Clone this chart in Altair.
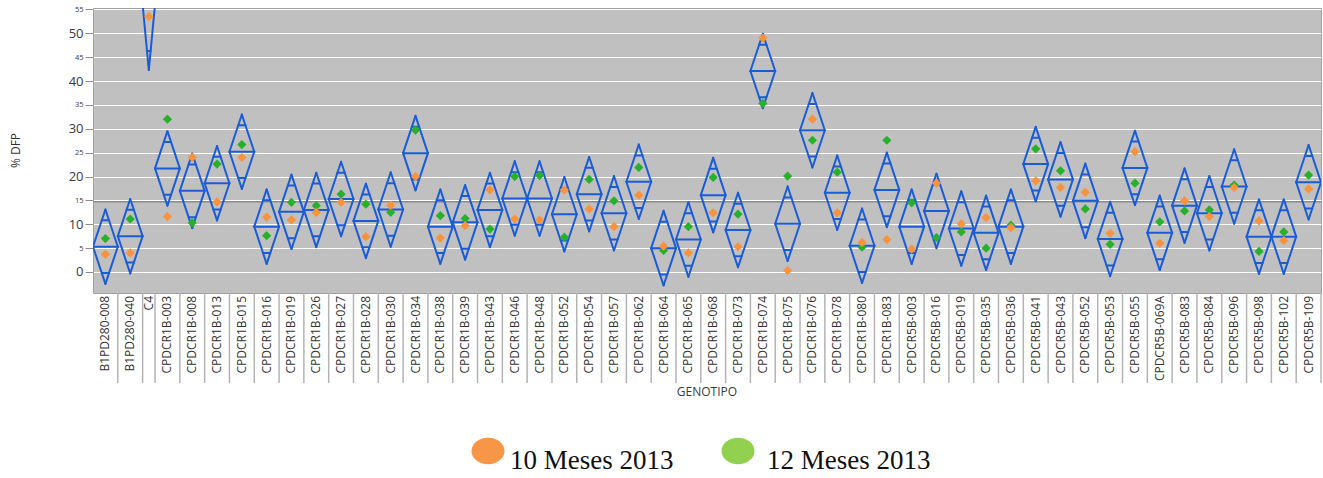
import altair as alt
import pandas as pd

# Genotypes in plotting order
genotipos = [
    "B1PD280-008", "B1PD280-040", "C4",
    "CPDCR1B-003", "CPDCR1B-008", "CPDCR1B-013", "CPDCR1B-015", "CPDCR1B-016",
    "CPDCR1B-019", "CPDCR1B-026", "CPDCR1B-027", "CPDCR1B-028", "CPDCR1B-030",
    "CPDCR1B-034", "CPDCR1B-038", "CPDCR1B-039", "CPDCR1B-043", "CPDCR1B-046",
    "CPDCR1B-048", "CPDCR1B-052", "CPDCR1B-054", "CPDCR1B-057", "CPDCR1B-062",
    "CPDCR1B-064", "CPDCR1B-065", "CPDCR1B-068", "CPDCR1B-073", "CPDCR1B-074",
    "CPDCR1B-075", "CPDCR1B-076", "CPDCR1B-078", "CPDCR1B-080", "CPDCR1B-083",
    "CPDCR5B-003", "CPDCR5B-016", "CPDCR5B-019", "CPDCR5B-035", "CPDCR5B-036",
    "CPDCR5B-041", "CPDCR5B-043", "CPDCR5B-052", "CPDCR5B-053", "CPDCR5B-055",
    "CPDCR5B-069A", "CPDCR5B-083", "CPDCR5B-084", "CPDCR5B-096", "CPDCR5B-098",
    "CPDCR5B-102", "CPDCR5B-109",
]

# Relative sample size per genotype (sets the width of each diamond)
peso = [
    1, 1, 0.5,
    1, 1, 1, 1, 1, 1, 1, 1, 1, 1, 1, 1, 1, 1, 1, 1, 1, 1, 1, 1,
    1, 1, 1, 1, 1, 1, 1, 1, 1, 1,
    1, 1, 1, 1, 1, 1, 1, 1, 1, 1, 1, 1, 1, 1, 1, 1, 1,
]

# Group mean of % DFP
media = [
    5.3, 7.5, 56.0,
    21.7, 17.0, 18.6, 25.2, 9.5, 12.6, 13.0, 15.3, 10.7, 13.1,
    24.9, 9.5, 10.4, 13.0, 15.4, 15.4, 12.1, 16.3, 12.3, 18.9,
    5.0, 6.8, 16.1, 8.8, 42.1, 10.1, 29.7, 16.6, 5.5, 17.2,
    9.5, 12.8, 9.1, 8.2, 9.5, 22.6, 19.4, 14.9, 6.9, 21.8,
    8.2, 13.9, 12.3, 17.9, 7.4, 7.4, 18.8,
]

# Half width of the 95% confidence interval of each mean
ic = [
    7.8, 7.8, 13.7,
    7.8, 7.8, 7.8, 7.8, 7.8, 7.8, 7.8, 7.8, 7.8, 7.8,
    7.8, 7.8, 7.8, 7.8, 7.8, 7.8, 7.8, 7.8, 7.8, 7.8,
    7.8, 7.8, 7.8, 7.8, 7.8, 7.8, 7.8, 7.8, 7.8, 7.8,
    7.8, 7.8, 7.8, 7.8, 7.8, 7.8, 7.8, 7.8, 7.8, 7.8,
    7.8, 7.8, 7.8, 7.8, 7.8, 7.8, 7.8,
]

# % DFP at 10 months (2013)
meses10 = [
    3.7, 4.0, 53.5,
    11.6, 24.0, 14.7, 24.0, 11.5, 10.9, 12.5, 14.6, 7.4, 14.0,
    20.0, 7.1, 9.7, 17.2, 11.1, 10.9, 17.2, 13.2, 9.5, 16.1,
    5.4, 4.0, 12.4, 5.3, 49.0, 0.3, 32.0, 12.4, 6.2, 6.8,
    4.8, 18.6, 10.1, 11.4, 9.3, 19.1, 17.7, 16.7, 8.1, 25.2,
    6.0, 14.9, 11.6, 17.7, 10.7, 6.6, 17.4,
]

# % DFP at 12 months (2013)
meses12 = [
    7.0, 11.1, 58.5,
    32.0, 10.3, 22.6, 26.7, 7.6, 14.6, 13.9, 16.3, 14.2, 12.5,
    29.7, 11.8, 11.2, 9.0, 20.0, 20.2, 7.3, 19.4, 14.9, 21.9,
    4.5, 9.5, 19.8, 12.1, 35.3, 20.1, 27.6, 20.9, 5.2, 27.6,
    14.5, 7.2, 8.4, 5.0, 9.8, 25.8, 21.2, 13.2, 5.8, 18.6,
    10.5, 12.8, 13.0, 18.2, 4.3, 8.4, 20.3,
]

media_general = 14.7
marcas_y = [0, 5, 10, 15, 20, 25, 30, 35, 40, 45, 50, 55]
leyenda = ["10 Meses 2013", "12 Meses 2013"]

AZUL = "#1a5cd6"
NARANJA = "#f8923c"
VERDE = "#27b02a"
FUENTE = "Open Sans"

df = pd.DataFrame({
    "genotipo": genotipos, "n": peso, "media": media, "ic": ic,
    "m10": meses10, "m12": meses12, "orden": list(range(len(genotipos))),
})

total = sum(peso)
xs = alt.Scale(domain=[0, total], nice=False, zero=False)
ys = alt.Scale(domain=[-4.4, 55.3], nice=False, zero=False)
y_axis = alt.Axis(
    values=marcas_y, title="% DFP", grid=True, gridColor="white", gridWidth=1,
    gridOpacity=1, domain=False, ticks=True, tickSize=8, tickColor="#8c8c8c",
    labelPadding=2, labelFont=FUENTE, labelColor="#3a3a48",
    labelFontSize={"condition": {"test": "datum.value % 10 === 0", "value": 13}, "value": 7.5},
    titleFont=FUENTE, titleFontSize=12, titleFontWeight="normal", titleColor="#333333",
    titleAngle=270, titleX=-78, titleY=142, titleAlign="center", titleBaseline="middle",
)

base = (
    alt.Chart(df)
    .transform_window(dcha="sum(n)", sort=[alt.SortField("orden")], frame=[None, 0])
    .transform_calculate(
        izq="datum.dcha - datum.n",
        centro="datum.dcha - datum.n / 2",
        sup="datum.media + datum.ic",
        inf="datum.media - datum.ic",
        sol_sup="datum.media + datum.ic * 0.7071",
        sol_inf="datum.media - datum.ic * 0.7071",
        sol_izq="datum.dcha - datum.n / 2 - datum.n * 0.1464",
        sol_dcha="datum.dcha - datum.n / 2 + datum.n * 0.1464",
    )
)


def segmento(xa, ya, xb, yb):
    return base.mark_rule(color=AZUL, strokeWidth=2, strokeCap="round", clip=True).encode(
        x=alt.X(f"{xa}:Q", scale=xs, axis=None),
        x2=alt.X2(f"{xb}:Q"),
        y=alt.Y(f"{ya}:Q", scale=ys, axis=y_axis),
        y2=alt.Y2(f"{yb}:Q"),
    )


# Means diamonds: four edges, the mean line and the two overlap marks
rombos = [
    segmento("izq", "media", "centro", "sup"),
    segmento("centro", "sup", "dcha", "media"),
    segmento("dcha", "media", "centro", "inf"),
    segmento("centro", "inf", "izq", "media"),
    segmento("izq", "media", "dcha", "media"),
    segmento("sol_izq", "sol_sup", "sol_dcha", "sol_sup"),
    segmento("sol_izq", "sol_inf", "sol_dcha", "sol_inf"),
]

linea_general = alt.Chart(pd.DataFrame({"g": [media_general]})).mark_rule(
    color="#8a8a8a", strokeWidth=1.5
).encode(y=alt.Y("g:Q", scale=ys, axis=y_axis))


def puntos(campo, color):
    return base.mark_point(shape="diamond", filled=True, size=85, opacity=1,
                           color=color, clip=True).encode(
        x=alt.X("centro:Q", scale=xs, axis=None),
        y=alt.Y(f"{campo}:Q", scale=ys, axis=y_axis),
    )


separadores = base.mark_rule(color="#b4b4b4", strokeWidth=1.5).encode(
    x=alt.X("dcha:Q", scale=xs, axis=None),
    y=alt.value(285), y2=alt.value(375),
)

etiquetas = base.mark_text(
    angle=270, align="right", baseline="middle", font=FUENTE, fontSize=12,
    color="#333333",
).encode(
    x=alt.X("centro:Q", scale=xs, axis=None),
    y=alt.value(288),
    text="genotipo:N",
)

titulo_x = alt.Chart(pd.DataFrame({"t": ["GENOTIPO"]})).mark_text(
    font=FUENTE, fontSize=12, color="#3a3a48", baseline="middle", align="center"
).encode(x=alt.value(614), y=alt.value(384), text="t:N")

# Legend drawn below the chart
elipse = "M-1,0A1,0.8,0,1,1,1,0A1,0.8,0,1,1,-1,0Z"
ley_df = pd.DataFrame({"serie": leyenda})
ley_sim = alt.Chart(ley_df).mark_point(shape=elipse, filled=True, size=1090, opacity=1).encode(
    x=alt.X("serie:N", scale=alt.Scale(domain=leyenda, range=[395, 645], padding=0), axis=None),
    y=alt.value(443),
    color=alt.Color("serie:N", scale=alt.Scale(domain=leyenda, range=["#f79646", "#92d050"]),
                    legend=None),
)
ley_txt = alt.Chart(ley_df).mark_text(
    font="Liberation Serif", fontSize=27, color="#111111", align="left", baseline="alphabetic"
).encode(
    x=alt.X("serie:N", scale=alt.Scale(domain=leyenda, range=[417, 674], padding=0), axis=None),
    y=alt.value(461),
    text="serie:N",
)

chart = alt.layer(
    linea_general, *rombos, puntos("m12", VERDE), puntos("m10", NARANJA),
    separadores, etiquetas, titulo_x, ley_sim, ley_txt,
).resolve_scale(x="independent").properties(
    width=1228, height=285,
    background="white",
    autosize=alt.AutoSizeParams(type="none"),
    padding={"left": 93, "top": 8, "right": 2, "bottom": 185},
).configure_view(
    fill="#c0c0c0", stroke="#a0a0a0", strokeWidth=1
)

chart.save("out.html", embed_options={"renderer": "svg", "actions": False})
